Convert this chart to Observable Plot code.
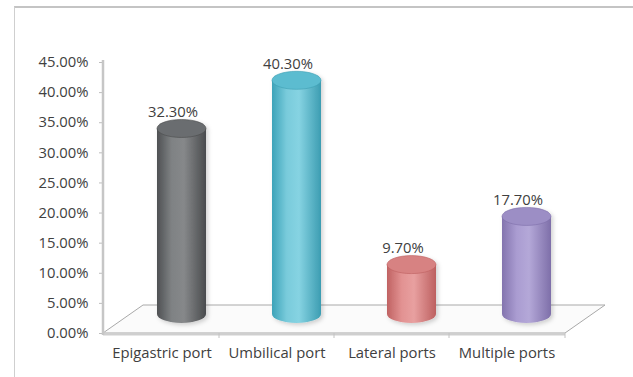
<!DOCTYPE html>
<html>
<head>
<meta charset="utf-8">
<script src="https://cdn.jsdelivr.net/npm/d3@7"></script>
<script src="https://cdn.jsdelivr.net/npm/@observablehq/plot@0.6"></script>
<style>
  body { margin: 0; background: #fff; }
  #wrap { position: relative; width: 633px; height: 377px; overflow: hidden; }
  #frame { position: absolute; left: 14px; top: 6px; width: 700px; height: 420px;
           border-top: 2px solid #c4c4c4; border-left: 1px solid #cfcfcf; }
  #chart { position: absolute; left: 0; top: 0; }
</style>
</head>
<body>
<div id="wrap"><div id="frame"></div><div id="chart"></div></div>
<script>
// Port-site distribution
const categories = ["Epigastric port", "Umbilical port", "Lateral ports", "Multiple ports"];
const shares = [0.323, 0.403, 0.097, 0.177];
const yTicks = [0, 0.05, 0.10, 0.15, 0.20, 0.25, 0.30, 0.35, 0.40, 0.45];

const rows = categories.map((category, i) => ({category, share: shares[i]}));
const pct = d3.format(".2%");

// cylinder shading: [left edge, highlight, mid, right edge, top cap]
const palette = {
  "Epigastric port": ["#4f5153", "#7f8284", "#86888a", "#4a4c4e", "#6a6d6f"],
  "Umbilical port":  ["#3da3b9", "#79cbdb", "#86d3e2", "#3c9db2", "#5cbcd0"],
  "Lateral ports":   ["#c06262", "#e29292", "#e8a0a0", "#bd6060", "#d78282"],
  "Multiple ports":  ["#8374ae", "#aa9cd1", "#b4a8d8", "#7e6fa9", "#9c8ec5"]
};

const fontSize = 14.8;

const chart = Plot.plot({
  width: 633,
  height: 377,
  marginLeft: 103,
  marginRight: 68,
  marginTop: 62,
  marginBottom: 44,
  style: {fontFamily: "'Open Sans', sans-serif", fontSize: fontSize + "px", color: "#404040", background: "transparent"},
  x: {type: "band", domain: categories, padding: 0},
  y: {domain: [0, 0.45]},
  marks: [
    Plot.axisY({ticks: yTicks, tickFormat: ".2%", tickSize: 4, tickPadding: 11, label: null, stroke: "#bdbdbd", fontSize}),
    Plot.axisX({tickSize: 0, tickPadding: 14, label: null, fontSize}),
    Plot.text(rows, {x: "category", y: "share", text: d => pct(d.share), dx: 11, dy: -27, fill: "#404040", fontSize})
  ]
});
document.getElementById("chart").appendChild(chart);

// 3D floor, axis wall edge and cylinders, placed with the plot's own scales
const svg = d3.select(chart);
const x = chart.scale("x");
const y = chart.scale("y");
const bw = x.bandwidth;
const [xl, xr] = x.range;
const y0 = y.apply(0);
const yMax = y.apply(0.45);
const depth = {dx: 40, dy: -28};

const defs = svg.append("defs");
const shadow = defs.append("filter").attr("id", "cylShadow").attr("x", "-30%").attr("y", "-10%").attr("width", "160%").attr("height", "130%");
shadow.append("feDropShadow").attr("dx", 2).attr("dy", 2).attr("stdDeviation", 2).attr("flood-color", "#000").attr("flood-opacity", 0.18);

categories.forEach((c, i) => {
  const g = defs.append("linearGradient").attr("id", "cyl" + i).attr("x1", 0).attr("x2", 1).attr("y1", 0).attr("y2", 0);
  const col = palette[c];
  [[0, col[0]], [0.3, col[1]], [0.55, col[2]], [1, col[3]]].forEach(([o, s]) =>
    g.append("stop").attr("offset", o).attr("stop-color", s));
});

const scene = svg.insert("g", "g[aria-label='text']");

// floor
scene.append("path")
  .attr("d", `M${xl},${y0}L${xr},${y0}L${xr + depth.dx},${y0 + depth.dy}L${xl + depth.dx},${y0 + depth.dy}Z`)
  .attr("fill", "#fbfbfb").attr("stroke", "#a9a9a9").attr("stroke-width", 1);
scene.append("line")
  .attr("x1", xl).attr("x2", xr).attr("y1", y0 + 1).attr("y2", y0 + 1)
  .attr("stroke", "#cfcfcf").attr("stroke-width", 3);

// vertical axis edge
scene.append("line")
  .attr("x1", xl).attr("x2", xl).attr("y1", yMax - 2).attr("y2", y0 + 2)
  .attr("stroke", "#c6c6c6").attr("stroke-width", 2.5);

// category separators on the floor front edge
categories.slice(1).map(c => x.apply(c)).concat([xr]).forEach(px => {
  scene.append("line").attr("x1", px).attr("x2", px).attr("y1", y0).attr("y2", y0 + 5)
    .attr("stroke", "#c2c2c2").attr("stroke-width", 1);
});

// cylinders
const rx = 24.5, ry = 9;
rows.forEach((d, i) => {
  const cx = x.apply(d.category) + bw / 2 + depth.dx / 2;
  const yb = y0 - 19;
  const yt = y.apply(d.share) - 10;
  const g = scene.append("g").attr("filter", "url(#cylShadow)");
  g.append("path")
    .attr("d", `M${cx - rx},${yt}L${cx - rx},${yb}A${rx},${ry} 0 0 0 ${cx + rx},${yb}L${cx + rx},${yt}Z`)
    .attr("fill", `url(#cyl${i})`);
  g.append("ellipse")
    .attr("cx", cx).attr("cy", yt).attr("rx", rx).attr("ry", ry)
    .attr("fill", palette[d.category][4])
    .attr("stroke", palette[d.category][3]).attr("stroke-width", 0.6);
});
</script>
</body>
</html>
